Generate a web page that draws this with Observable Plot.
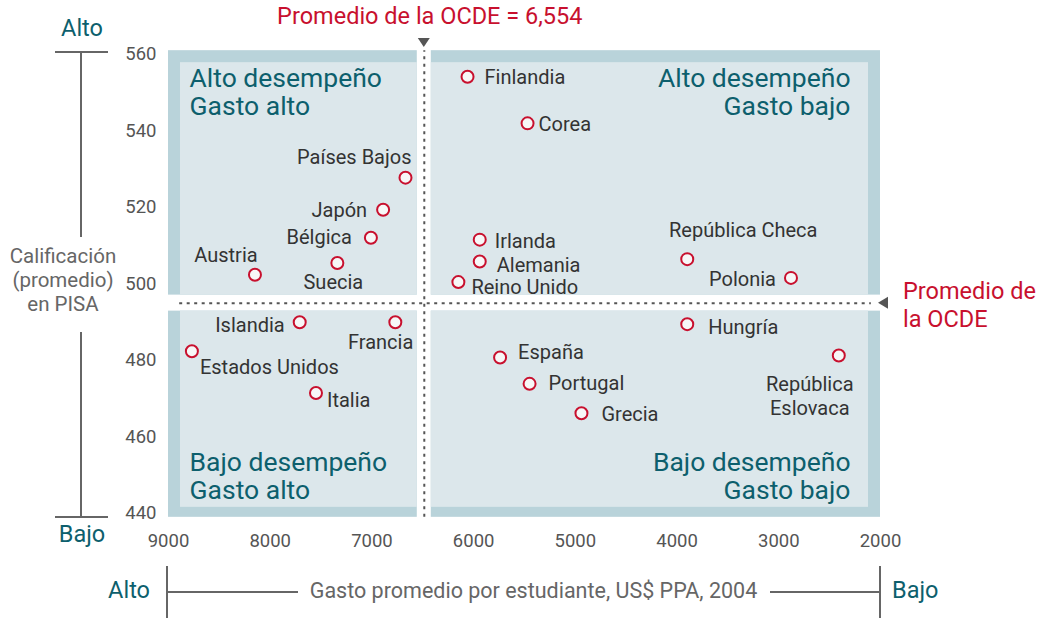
<!DOCTYPE html>
<html><head><meta charset="utf-8">
<script src="https://cdn.jsdelivr.net/npm/d3@7"></script>
<script src="https://cdn.jsdelivr.net/npm/@observablehq/plot@0.6"></script>
<style>
body{margin:0;background:#fff;}
#chart{width:1047px;height:618px;overflow:hidden;}
</style></head><body><div id="chart"></div>
<script>
// ---- data ----
const countries = ["Finlandia","Corea","Países Bajos","Japón","Bélgica","Austria","Suecia","Irlanda","Alemania","Reino Unido","República Checa","Polonia","Islandia","Francia","Estados Unidos","Italia","Hungría","España","Portugal","Grecia","República\nEslovaca"];
const spending = [6060, 5470, 6670, 6890, 7010, 8150, 7340, 5940, 5940, 6150, 3900, 2880, 7710, 6770, 8770, 7550, 3900, 5740, 5450, 4940, 2410];
const pisa =     [554.2, 542, 527.8, 519.4, 512.1, 502.4, 505.5, 511.6, 505.9, 500.5, 506.5, 501.6, 490, 490, 482.4, 471.5, 489.5, 480.8, 473.9, 466.2, 481.3];
const xTicks = [9000, 8000, 7000, 6000, 5000, 4000, 3000, 2000];
const yTicks = [440, 460, 480, 500, 520, 540, 560];
const oecdSpending = 6554;
const oecdPisa = 495;
const quadrantLabels = ["Alto desempeño\nGasto alto", "Alto desempeño\nGasto bajo", "Bajo desempeño\nGasto alto", "Bajo desempeño\nGasto bajo"];
const meanTitle = "Promedio de la OCDE = 6,554";
const meanSide = "Promedio de\nla OCDE";
const yTitle = ["Calificación", "(promedio)", "en PISA"];
const xTitle = "Gasto promedio por estudiante, US$ PPA, 2004";
const highLow = ["Alto", "Bajo"];

// ---- styles ----
const RED = "#c8102e", TEAL = "#0d5f6d", OUTER = "#b9d3da", INNER = "#dce7eb", DARK = "#333", GRAY = "#555";
const FONT = "Roboto, 'Liberation Sans', sans-serif";
const xMin = 9000, xMax = 2000, yLo = 439, yHi = 561;

const place = {
  "Finlandia": ["start", 17, 0],
  "Corea": ["start", 11, 0],
  "Países Bajos": ["end", 6, -21],
  "Japón": ["end", -16, 0],
  "Bélgica": ["end", -19, -1],
  "Austria": ["middle", -29, -21],
  "Suecia": ["middle", -4, 18],
  "Irlanda": ["start", 15, 1],
  "Alemania": ["start", 17, 3],
  "Reino Unido": ["start", 13, 4],
  "República Checa": ["middle", 56, -30],
  "Polonia": ["end", -15, 0],
  "Islandia": ["end", -15, 2],
  "Francia": ["end", 18, 19],
  "Estados Unidos": ["start", 8, 15],
  "Italia": ["start", 11, 6],
  "Hungría": ["start", 21, 2],
  "España": ["start", 18, -6],
  "Portugal": ["start", 19, -2],
  "Grecia": ["start", 20, 0],
  "República\nEslovaca": ["middle", -29, 40]
};

const idx = countries.map((_, i) => i);
const gap = 8, vgap = 14, bw = 12;

function panel(x1, x2, y1, y2, fill, ins) {
  return Plot.rect([0], {x1: () => x1, x2: () => x2, y1: () => y1, y2: () => y2, fill, ...ins});
}

const labelMarks = idx.map(i => {
  const [a, dx, dy] = place[countries[i]];
  return Plot.text([i], {x: j => spending[j], y: j => pisa[j], text: j => countries[j],
    textAnchor: a, dx, dy, fontSize: 20, fill: DARK, lineHeight: 1.2});
});

const plot = Plot.plot({
  width: 1047, height: 618,
  marginLeft: 168, marginRight: 167, marginTop: 54, marginBottom: 105,
  style: {fontFamily: FONT, background: "transparent", overflow: "visible"},
  x: {domain: [xMin, xMax], label: null},
  y: {domain: [440, 560], label: null},
  marks: [
    panel(xMin, oecdSpending, oecdPisa, yHi, OUTER, {insetBottom: gap}),
    panel(xMin, oecdSpending, oecdPisa, yHi, INNER, {insetBottom: gap, insetLeft: bw, insetTop: bw}),
    panel(oecdSpending, xMax, oecdPisa, yHi, OUTER, {insetBottom: gap, insetLeft: vgap}),
    panel(oecdSpending, xMax, oecdPisa, yHi, INNER, {insetBottom: gap, insetLeft: vgap, insetTop: bw, insetRight: bw}),
    panel(xMin, oecdSpending, yLo, oecdPisa, OUTER, {insetTop: gap}),
    panel(xMin, oecdSpending, yLo, oecdPisa, INNER, {insetTop: gap, insetLeft: bw, insetBottom: 10}),
    panel(oecdSpending, xMax, yLo, oecdPisa, OUTER, {insetTop: gap, insetLeft: vgap}),
    panel(oecdSpending, xMax, yLo, oecdPisa, INNER, {insetTop: gap, insetLeft: vgap, insetRight: bw, insetBottom: 10}),
    Plot.axisX({ticks: xTicks, tickSize: 0, tickPadding: 20, fontSize: 18.5, fill: GRAY, tickFormat: d => String(d), label: null}),
    Plot.axisY({ticks: yTicks, tickSize: 0, tickPadding: 12, fontSize: 18.5, fill: GRAY, label: null}),
    Plot.text([quadrantLabels[0]], {frameAnchor: "top-left", text: d => d, dx: 21, dy: 13, fontSize: 26.5, fill: TEAL, lineAnchor: "top", lineHeight: 1.05}),
    Plot.text([quadrantLabels[1]], {frameAnchor: "top-right", text: d => d, dx: -30, dy: 13, fontSize: 26.5, fill: TEAL, lineAnchor: "top", lineHeight: 1.05}),
    Plot.text([quadrantLabels[2]], {frameAnchor: "bottom-left", text: d => d, dx: 21, dy: -15, fontSize: 26.5, fill: TEAL, lineAnchor: "bottom", lineHeight: 1.05}),
    Plot.text([quadrantLabels[3]], {frameAnchor: "bottom-right", text: d => d, dx: -30, dy: -15, fontSize: 26.5, fill: TEAL, lineAnchor: "bottom", lineHeight: 1.05}),
    Plot.ruleX([oecdSpending], {y1: () => yLo, y2: () => yHi, dx: vgap / 2, stroke: GRAY, strokeWidth: 2, strokeDasharray: "3,4.5"}),
    Plot.ruleY([oecdPisa], {x1: () => 8890, x2: () => 2090, stroke: GRAY, strokeWidth: 2, strokeDasharray: "3,4.5"}),
    Plot.dot(idx, {x: i => spending[i], y: i => pisa[i], r: 6, stroke: RED, strokeWidth: 2, fill: "#f7f7f7"}),
    ...labelMarks
  ]
});

document.getElementById("chart").appendChild(plot);

// ---- annotations outside the frame ----
const sx = plot.scale("x"), sy = plot.scale("y");
const svg = d3.select(plot);
const g = svg.append("g").attr("font-family", FONT).attr("text-anchor", "start");
const mx = sx.apply(oecdSpending) + vgap / 2;
const my = sy.apply(oecdPisa);
const yTopPx = sy.apply(560), yBotPx = sy.apply(440);
const xLeftPx = sx.apply(xMin), xRightPx = sx.apply(xMax);

function label(x, y, t, size, fill, anchor) {
  g.append("text").attr("x", x).attr("y", y).attr("text-anchor", anchor).attr("dominant-baseline", "middle")
    .attr("font-size", size).attr("fill", fill).text(t);
}
function line(x1, y1, x2, y2) {
  g.append("line").attr("x1", x1).attr("y1", y1).attr("x2", x2).attr("y2", y2).attr("stroke", "#666").attr("stroke-width", 2);
}

g.append("path").attr("d", `M${mx - 6},${yTopPx - 16} L${mx + 6},${yTopPx - 16} L${mx},${yTopPx - 7} Z`).attr("fill", GRAY);
label(mx + 6, yTopPx - 36, meanTitle, 23.5, RED, "middle");
g.append("path").attr("d", `M${xRightPx - 2},${my} L${xRightPx + 8},${my - 6} L${xRightPx + 8},${my + 6} Z`).attr("fill", GRAY);
meanSide.split("\n").forEach((t, k) => label(xRightPx + 23, my - 10 + k * 28, t, 23.5, RED, "start"));

const bx = 81;
line(55, yTopPx - 2, 108, yTopPx - 2);
line(bx, yTopPx - 2, bx, 237);
line(bx, 332, bx, yBotPx + 4);
line(55, yBotPx + 4, 108, yBotPx + 4);
label(bx + 1, 30, highLow[0], 23.5, TEAL, "middle");
label(bx + 1, 536, highLow[1], 23.5, TEAL, "middle");
yTitle.forEach((t, k) => label(63, 258 + k * 24, t, 20.5, "#666", "middle"));

const by = 592;
line(xLeftPx - 1, 566, xLeftPx - 1, 618);
line(xLeftPx - 1, by, 298, by);
line(770, by, xRightPx, by);
line(xRightPx, 566, xRightPx, 618);
label(150, by, highLow[0], 23.5, TEAL, "end");
label(xRightPx + 12, by, highLow[1], 23.5, TEAL, "start");
label(533.5, by, xTitle, 21.5, "#666", "middle");
</script></body></html>
